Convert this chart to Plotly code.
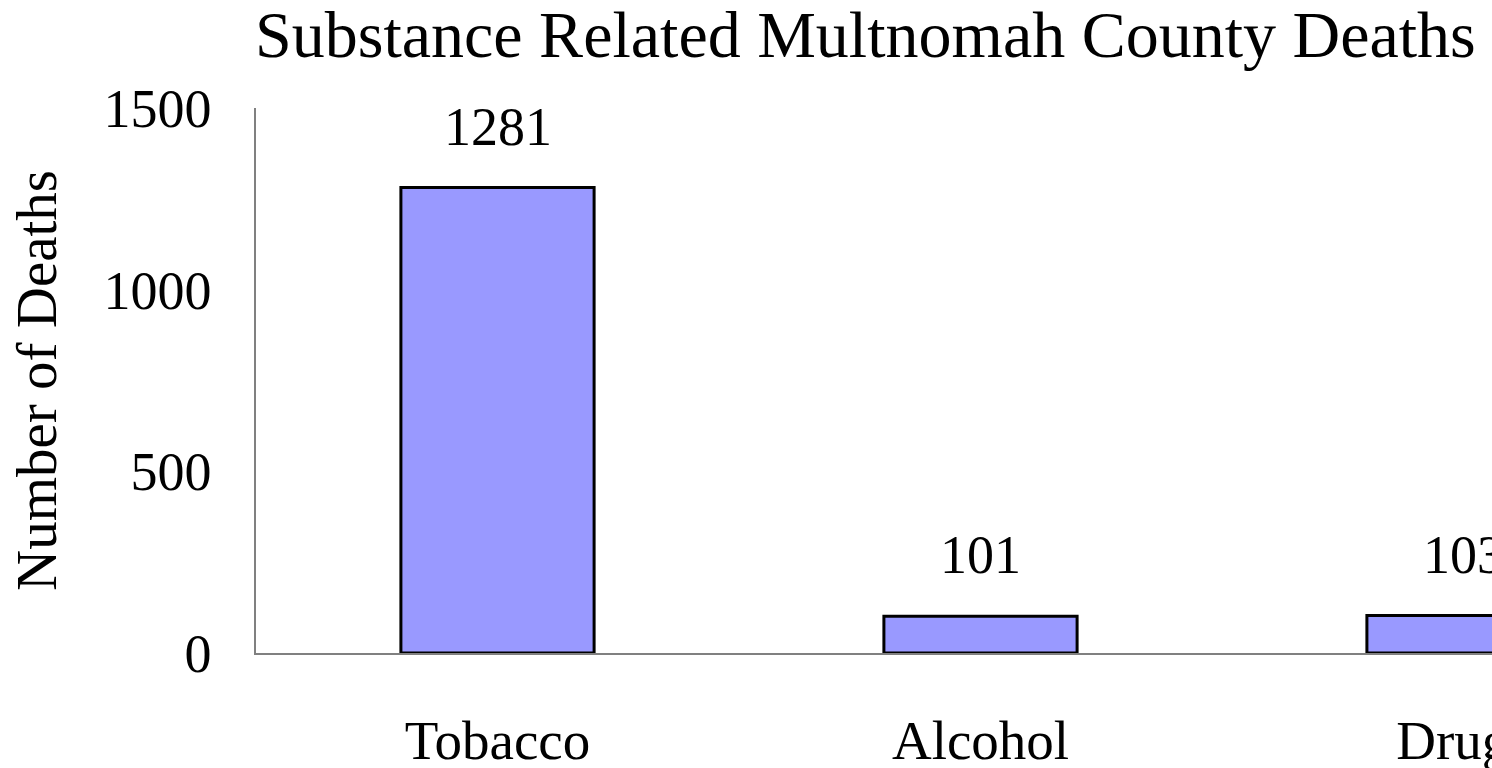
import plotly.graph_objects as go

categories = ["Tobacco", "Alcohol", "Drugs"]
deaths = [1281, 101, 103]
y_ticks = [0, 500, 1000, 1500]

FONT = "Liberation Serif"

fig = go.Figure()
fig.add_trace(go.Bar(
    x=categories, y=deaths,
    marker=dict(color="#9999FF", line=dict(color="black", width=3)),
    width=0.4, cliponaxis=True, showlegend=False,
))
for c, v in zip(categories, deaths):
    fig.add_annotation(x=c, y=v, text=str(v), showarrow=False,
                       yanchor="bottom", yshift=29,
                       font=dict(family=FONT, size=54, color="black"))

fig.update_layout(
    width=1492, height=768, autosize=False,
    margin=dict(l=256, r=0, t=108, b=115, autoexpand=False),
    paper_bgcolor="white", plot_bgcolor="white",
    title=dict(text="Substance Related Multnomah County Deaths",
               x=255/1492, xanchor="left", xref="container",
               y=1-34/768, yanchor="middle", yref="container",
               font=dict(family=FONT, size=66, color="black")),
    font=dict(family=FONT, color="black"),
)
fig.update_xaxes(range=[-0.5, (1492-256)/483 - 0.5], automargin=False,
                 showline=True, linecolor="#808080", linewidth=1.5,
                 ticks="", tickfont=dict(family=FONT, size=55, color="black"),
                 ticklabelstandoff=38, showgrid=False)
fig.update_yaxes(range=[0, 1500], tickvals=y_ticks, automargin=False,
                 showline=True, linecolor="#808080", linewidth=1.5,
                 ticks="", tickfont=dict(family=FONT, size=54, color="black"),
                 ticklabelstandoff=32, showgrid=False, zeroline=False,
                 title=dict(text="Number of Deaths", standoff=29,
                            font=dict(family=FONT, size=57, color="black")))

fig.write_html("out.html", config={"displayModeBar": False},
               post_script="document.body.style.margin='0';document.body.style.overflow='hidden';")
